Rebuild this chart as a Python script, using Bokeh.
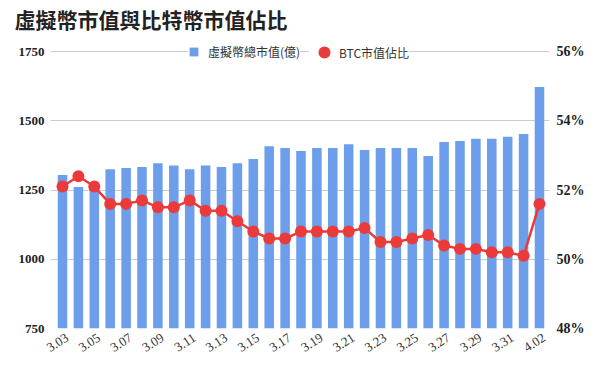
from bokeh.plotting import figure
from bokeh.models import (ColumnDataSource, Range1d, LinearAxis, FixedTicker,
                          Legend, LegendItem, PrintfTickFormatter, CustomJSTickFormatter)
from bokeh.embed import file_html
from bokeh.resources import INLINE
import math

dates = ["3.03", "3.04", "3.05", "3.06", "3.07", "3.08", "3.09", "3.10", "3.11", "3.12",
         "3.13", "3.14", "3.15", "3.16", "3.17", "3.18", "3.19", "3.20", "3.21", "3.22",
         "3.23", "3.24", "3.25", "3.26", "3.27", "3.28", "3.29", "3.30", "3.31", "4.01", "4.02"]
total_cap = [1304, 1261, 1265, 1325, 1330, 1333, 1347, 1339, 1325, 1339,
             1333, 1347, 1362, 1408, 1402, 1391, 1402, 1402, 1415, 1395,
             1402, 1402, 1402, 1373, 1423, 1427, 1435, 1435, 1442, 1452, 1622]
btc_share = [52.1, 52.4, 52.1, 51.6, 51.6, 51.7, 51.5, 51.5, 51.7, 51.4,
             51.4, 51.1, 50.8, 50.6, 50.6, 50.8, 50.8, 50.8, 50.8, 50.9,
             50.5, 50.5, 50.6, 50.7, 50.4, 50.3, 50.3, 50.2, 50.2, 50.1, 51.6]
left_ticks = [750, 1000, 1250, 1500, 1750]
right_ticks = [48, 50, 52, 54, 56]

idx = list(range(len(dates)))
src = ColumnDataSource(dict(x=idx, cap=total_cap, share=btc_share, date=dates))

# a little head-room above the top gridline for the legend
y_top = 1808
pct_top = 48 + 8 * (y_top - 750) / 1000

p = figure(width=600, height=369, output_backend="svg", toolbar_location=None,
           x_range=Range1d(-0.755, len(dates) - 1 + 0.63), y_range=Range1d(750, y_top),
           min_border_left=50, min_border_right=51, min_border_top=10, min_border_bottom=41)
p.title.text = "虛擬幣市值與比特幣市值佔比"
p.title.text_font = "Noto Sans CJK TC"
p.title.text_font_size = "21px"
p.title.text_font_style = "bold"
p.title.text_color = "#222222"
p.title.offset = -36
p.title.standoff = 3
p.outline_line_color = None
p.background_fill_color = "white"

p.extra_y_ranges = {"pct": Range1d(48, pct_top)}

bars = p.vbar(x="x", top="cap", bottom=750, width=0.6, source=src,
              fill_color="#6d9eeb", line_color=None)
line = p.line(x="x", y="share", source=src, y_range_name="pct",
              line_color="#ea3a3a", line_width=2.5)
dots = p.scatter(x="x", y="share", source=src, y_range_name="pct", size=12,
                 fill_color="#ea3a3a", line_color=None)

# axes
p.yaxis.ticker = FixedTicker(ticks=left_ticks)
p.yaxis.axis_line_color = None
p.yaxis.major_tick_line_color = None
p.yaxis.minor_tick_line_color = None
p.yaxis.major_tick_out = 0
p.yaxis.major_tick_in = 0
p.yaxis.major_label_text_font = "Liberation Serif"
p.yaxis.major_label_text_font_style = "bold"
p.yaxis.major_label_text_font_size = "13px"
p.yaxis.major_label_text_color = "#222222"
p.yaxis.major_label_standoff = 6

ra = LinearAxis(y_range_name="pct", ticker=FixedTicker(ticks=right_ticks),
                formatter=PrintfTickFormatter(format="%d%%"))
ra.axis_line_color = None
ra.major_tick_line_color = None
ra.minor_tick_line_color = None
ra.major_tick_out = 0
ra.major_tick_in = 0
ra.major_label_text_font = "Liberation Serif"
ra.major_label_text_font_style = "bold"
ra.major_label_text_font_size = "14px"
ra.major_label_text_color = "#222222"
ra.major_label_standoff = 7
p.add_layout(ra, "right")

# labels sit slightly right of the bar centre, as in the original
label_shift = 0.3
p.xaxis.ticker = FixedTicker(ticks=[i + label_shift for i in idx[::2]])
p.xaxis.formatter = CustomJSTickFormatter(args=dict(labels=dates, shift=label_shift),
                                          code="return labels[Math.round(tick - shift)];")
p.xaxis.major_label_orientation = math.radians(33)
p.xaxis.axis_line_color = None
p.xaxis.major_tick_line_color = None
p.xaxis.minor_tick_line_color = None
p.xaxis.major_tick_out = 0
p.xaxis.major_tick_in = 0
p.xaxis.major_label_text_font = "Liberation Serif"
p.xaxis.major_label_text_font_size = "13px"
p.xaxis.major_label_text_color = "#333333"
p.xaxis.major_label_standoff = 8

p.xgrid.grid_line_color = None
p.ygrid.grid_line_color = "#cccccc"
p.ygrid.ticker = FixedTicker(ticks=left_ticks)

legend_font = "Noto Sans CJK TC"
leg1 = Legend(items=[LegendItem(label="虛擬幣總市值(億)", renderers=[bars])],
              orientation="horizontal", location=(138, 268),
              label_text_font=legend_font, label_text_font_size="12px",
              label_text_color="#333333", background_fill_color="white",
              background_fill_alpha=1, border_line_color=None,
              glyph_width=11, glyph_height=11, spacing=0, padding=0, margin=0,
              label_standoff=9)
leg2 = Legend(items=[LegendItem(label="BTC市值佔比", renderers=[dots])],
              orientation="horizontal", location=(259, 261),
              label_text_font=legend_font, label_text_font_size="12px",
              label_text_color="#333333", background_fill_color="white",
              background_fill_alpha=1, border_line_color=None,
              glyph_width=30, glyph_height=30, spacing=0, padding=0, margin=0,
              label_standoff=0)
p.add_layout(leg1)
p.add_layout(leg2)

open("out.html", "w").write(file_html(p, INLINE))
